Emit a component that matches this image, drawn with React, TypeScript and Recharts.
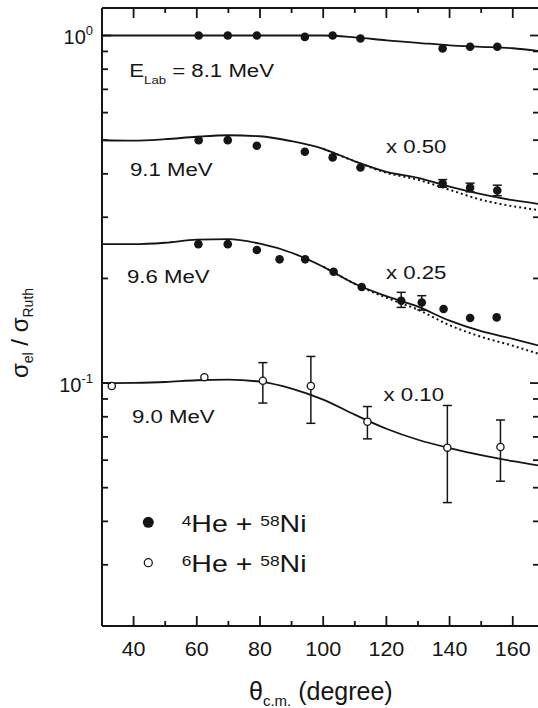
import { ComposedChart, ErrorBar, Line, Scatter, XAxis, YAxis } from "recharts";

const INK = "#151515";
const FONT = "'Liberation Sans', Arial, Helvetica, sans-serif";

// 4He + 58Ni, 8.1 MeV (x 1)
const angle81 = [60.6, 69.8, 79.0, 94.2, 103.0, 111.8, 137.8, 146.5, 155.1];
const sigma81 = [1.0, 1.0, 1.0, 0.991, 1.0, 0.98, 0.918, 0.928, 0.928];

// 4He + 58Ni, 9.1 MeV (x 0.50)
const angle91 = [60.6, 69.8, 79.0, 94.2, 103.0, 111.8];
const sigma91 = [0.5, 0.5, 0.482, 0.463, 0.446, 0.417];
const angle91e = [137.8, 146.5, 155.1];
const sigma91e = [0.375, 0.365, 0.358];
const low91e = [0.366, 0.355, 0.346];
const high91e = [0.385, 0.376, 0.371];

// 4He + 58Ni, 9.6 MeV (x 0.25)
const angle96 = [60.5, 69.8, 79.0, 86.2, 94.3, 103.3, 112.2, 138.1, 146.5, 154.9];
const sigma96 = [0.251, 0.251, 0.2415, 0.227, 0.227, 0.209, 0.189, 0.1633, 0.1539, 0.1545];
const angle96e = [124.7, 131.2];
const sigma96e = [0.1726, 0.1706];
const low96e = [0.1651, 0.1622];
const high96e = [0.1824, 0.1784];

// 6He + 58Ni, 9.0 MeV (x 0.10)
const angle90 = [33.1, 62.4];
const sigma90 = [0.0981, 0.104];
const angle90e = [80.9, 96.1, 114.0, 139.3, 156.1];
const sigma90e = [0.1015, 0.0981, 0.0774, 0.0652, 0.0655];
const low90e = [0.0876, 0.0766, 0.0691, 0.0453, 0.0522];
const high90e = [0.1145, 0.1193, 0.0856, 0.0862, 0.0783];

// calculations
const fitAngle = [30, 40, 50, 60, 70, 80, 90, 100, 110, 120, 130, 140, 150, 160, 168.3];
const fit81 = [1.0, 1.0, 1.0, 1.0, 1.0, 1.0, 1.0, 1.0, 0.988, 0.969, 0.953, 0.937, 0.928, 0.919, 0.903];
const fit91 = [0.4997, 0.4981, 0.5031, 0.5114, 0.5164, 0.513, 0.4964, 0.4722, 0.4346, 0.4055, 0.3897, 0.3672, 0.3494, 0.3358, 0.3275];
const fit96 = [0.2512, 0.2509, 0.2534, 0.2585, 0.2594, 0.2517, 0.2371, 0.2162, 0.1931, 0.1778, 0.1659, 0.1512, 0.141, 0.1341, 0.1281];
const fit90 = [0.0999, 0.1001, 0.1007, 0.1019, 0.1023, 0.1009, 0.0964, 0.0896, 0.0811, 0.0739, 0.0687, 0.065, 0.062, 0.0596, 0.0579];
const dotAngle = [100, 110, 120, 130, 140, 150, 160, 168.3];
const dot91 = [0.4722, 0.4346, 0.4028, 0.3846, 0.3599, 0.3369, 0.3227, 0.3147];
const dot96 = [0.2162, 0.1931, 0.176, 0.1626, 0.1467, 0.1359, 0.1281, 0.1213];

const xTicks = [40, 50, 60, 70, 80, 90, 100, 110, 120, 130, 140, 150, 160];
const yTicks = [
  0.02, 0.03, 0.04, 0.05, 0.06, 0.07, 0.08, 0.09, 0.1, 0.2, 0.3, 0.4, 0.5, 0.6, 0.7, 0.8, 0.9, 1,
];

const pts = (a: number[], v: number[]) => a.map((x, i) => ({ a: x, v: v[i] }));
const ptsErr = (a: number[], v: number[], lo: number[], hi: number[]) =>
  a.map((x, i) => ({ a: x, v: v[i], err: [v[i] - lo[i], hi[i] - v[i]] }));

const Filled = (p: any) => <circle cx={p.cx} cy={p.cy} r={4.3} fill={INK} />;
const Open = (p: any) => (
  <circle cx={p.cx} cy={p.cy} r={3.6} fill="#fff" stroke={INK} strokeWidth={1.3} />
);

const isMajorX = (v: number) => v % 20 === 0;
const isMajorY = (v: number) => v === 1 || v === 0.1;

function BottomTick(p: any) {
  const v = p.payload.value;
  const major = isMajorX(v);
  return (
    <g>
      <line x1={p.x} y1={p.y} x2={p.x} y2={p.y - (major ? 10 : 5)} stroke={INK} strokeWidth={1.8} />
      {major && (
        <text
          transform={`translate(${p.x},${p.y + 29.5}) scale(1.05,1)`}
          textAnchor="middle"
          fontSize={20.5}
          fontFamily={FONT}
          fill={INK}
        >
          {v}
        </text>
      )}
    </g>
  );
}

function TopTick(p: any) {
  const major = isMajorX(p.payload.value);
  return <line x1={p.x} y1={p.y} x2={p.x} y2={p.y + (major ? 10 : 5)} stroke={INK} strokeWidth={1.8} />;
}

function LeftTick(p: any) {
  const v = p.payload.value;
  const major = isMajorY(v);
  return (
    <g>
      <line x1={p.x} y1={p.y} x2={p.x + (major ? 9 : 6)} y2={p.y} stroke={INK} strokeWidth={1.8} />
      {major && (
        <text x={p.x - 9} y={p.y + 8.5} textAnchor="end" fontSize={20} fontFamily={FONT} fill={INK}>
          10
          <tspan fontSize={13} dy={-9}>
            {v === 1 ? "0" : "-1"}
          </tspan>
        </text>
      )}
    </g>
  );
}

function RightTick(p: any) {
  const major = isMajorY(p.payload.value);
  return <line x1={p.x} y1={p.y} x2={p.x - (major ? 9 : 6)} y2={p.y} stroke={INK} strokeWidth={1.8} />;
}

function Note({ x, y, children }: { x: number; y: number; children: any }) {
  return (
    <text transform={`translate(${x},${y}) scale(1.2,1)`} fontSize={18.5} fontFamily={FONT} fill={INK}>
      {children}
    </text>
  );
}

function LegendText({ x, y, a }: { x: number; y: number; a: string }) {
  return (
    <text transform={`translate(${x},${y}) scale(1.24,1)`} fontSize={23} fontFamily={FONT} fill={INK}>
      <tspan fontSize={14} dy={-6}>{a}</tspan>
      <tspan dy={6}>He + </tspan>
      <tspan fontSize={14} dy={-6}>58</tspan>
      <tspan dy={6}>Ni</tspan>
    </text>
  );
}

export default function App() {
  const axisLine = { stroke: INK, strokeWidth: 2 };
  const solid = { stroke: INK, strokeWidth: 1.8, dot: false, isAnimationActive: false, type: "monotone" as const };
  const dotted = { ...solid, strokeWidth: 2, strokeDasharray: "2 3" };
  const bar = { dataKey: "err", direction: "y" as const, width: 4.5, stroke: INK, strokeWidth: 1.5 };

  return (
    <div
      style={{
        position: "absolute",
        left: 0,
        top: 0,
        width: 538,
        height: 708,
        overflow: "hidden",
        background: "#fff",
      }}
    >
      <ComposedChart width={540} height={708} margin={{ top: 7, right: 0, bottom: 0, left: 0 }}>
        <XAxis
          xAxisId="b"
          dataKey="a"
          type="number"
          domain={[30, 168.3]}
          allowDataOverflow
          ticks={xTicks}
          interval={0}
          height={82}
          axisLine={axisLine}
          tickLine={false}
          tickSize={0}
          tickMargin={0}
          tick={(p: any) => <BottomTick {...p} />}
        />
        <XAxis
          xAxisId="t"
          orientation="top"
          dataKey="a"
          type="number"
          domain={[30, 168.3]}
          allowDataOverflow
          ticks={xTicks}
          interval={0}
          height={1}
          axisLine={axisLine}
          tickLine={false}
          tickSize={0}
          tickMargin={0}
          tick={(p: any) => <TopTick {...p} />}
        />
        <YAxis
          yAxisId="l"
          dataKey="v"
          type="number"
          scale="log"
          domain={[0.02, 1.2]}
          allowDataOverflow
          ticks={yTicks}
          interval={0}
          width={102}
          axisLine={axisLine}
          tickLine={false}
          tickSize={0}
          tickMargin={0}
          tick={(p: any) => <LeftTick {...p} />}
        />
        <YAxis
          yAxisId="r"
          orientation="right"
          dataKey="v"
          type="number"
          scale="log"
          domain={[0.02, 1.2]}
          allowDataOverflow
          ticks={yTicks}
          interval={0}
          width={1}
          axisLine={axisLine}
          tickLine={false}
          tickSize={0}
          tickMargin={0}
          tick={(p: any) => <RightTick {...p} />}
        />

        <Line xAxisId="b" yAxisId="l" data={pts(dotAngle, dot91)} dataKey="v" {...dotted} />
        <Line xAxisId="b" yAxisId="l" data={pts(dotAngle, dot96)} dataKey="v" {...dotted} />
        <Line xAxisId="b" yAxisId="l" data={pts(fitAngle, fit81)} dataKey="v" {...solid} />
        <Line xAxisId="b" yAxisId="l" data={pts(fitAngle, fit91)} dataKey="v" {...solid} />
        <Line xAxisId="b" yAxisId="l" data={pts(fitAngle, fit96)} dataKey="v" {...solid} />
        <Line xAxisId="b" yAxisId="l" data={pts(fitAngle, fit90)} dataKey="v" {...solid} />

        <Scatter xAxisId="b" yAxisId="l" data={pts(angle81, sigma81)} dataKey="v" shape={Filled} isAnimationActive={false} />
        <Scatter xAxisId="b" yAxisId="l" data={pts(angle91, sigma91)} dataKey="v" shape={Filled} isAnimationActive={false} />
        <Scatter
          xAxisId="b"
          yAxisId="l"
          data={ptsErr(angle91e, sigma91e, low91e, high91e)}
          dataKey="v"
          shape={Filled}
          isAnimationActive={false}
        >
          <ErrorBar {...bar} />
        </Scatter>
        <Scatter xAxisId="b" yAxisId="l" data={pts(angle96, sigma96)} dataKey="v" shape={Filled} isAnimationActive={false} />
        <Scatter
          xAxisId="b"
          yAxisId="l"
          data={ptsErr(angle96e, sigma96e, low96e, high96e)}
          dataKey="v"
          shape={Filled}
          isAnimationActive={false}
        >
          <ErrorBar {...bar} />
        </Scatter>
        <Scatter
          xAxisId="b"
          yAxisId="l"
          data={ptsErr(angle90e, sigma90e, low90e, high90e)}
          dataKey="v"
          shape={Open}
          isAnimationActive={false}
        >
          <ErrorBar {...bar} />
        </Scatter>
        <Scatter xAxisId="b" yAxisId="l" data={pts(angle90, sigma90)} dataKey="v" shape={Open} isAnimationActive={false} />
      </ComposedChart>

      <svg
        width={538}
        height={708}
        style={{ position: "absolute", left: 0, top: 0, pointerEvents: "none" }}
      >
        <text transform="translate(129.3,76.7) scale(1.2,1)" fontSize={18.5} fontFamily={FONT} fill={INK}>
          E
          <tspan fontSize={11} dy={7.6}>Lab</tspan>
          <tspan dy={-7.6}> = 8.1 MeV</tspan>
        </text>
        <Note x={130} y={176}>9.1 MeV</Note>
        <Note x={386} y={153}>x 0.50</Note>
        <Note x={127} y={283}>9.6 MeV</Note>
        <Note x={386} y={279}>x 0.25</Note>
        <Note x={132} y={423}>9.0 MeV</Note>
        <Note x={383.6} y={401}>x 0.10</Note>

        <circle cx={148.3} cy={522.3} r={5.5} fill={INK} />
        <circle cx={148.3} cy={562.7} r={4} fill="#fff" stroke={INK} strokeWidth={1.3} />
        <LegendText x={181.7} y={531.7} a="4" />
        <LegendText x={181.7} y={571.7} a="6" />

        <text transform="translate(28,333) rotate(-90)" textAnchor="middle" fontSize={24} fontFamily={FONT} fill={INK}>
          σ<tspan fontSize={14} dy={5}>el</tspan>
          <tspan dy={-5}> / σ</tspan>
          <tspan fontSize={14} dy={5}>Ruth</tspan>
        </text>
        <text x={249} y={700} fontSize={25} fontFamily={FONT} fill={INK}>
          θ<tspan fontSize={15} dy={6}>c.m.</tspan>
          <tspan dy={-6}> (degree)</tspan>
        </text>
      </svg>
    </div>
  );
}
